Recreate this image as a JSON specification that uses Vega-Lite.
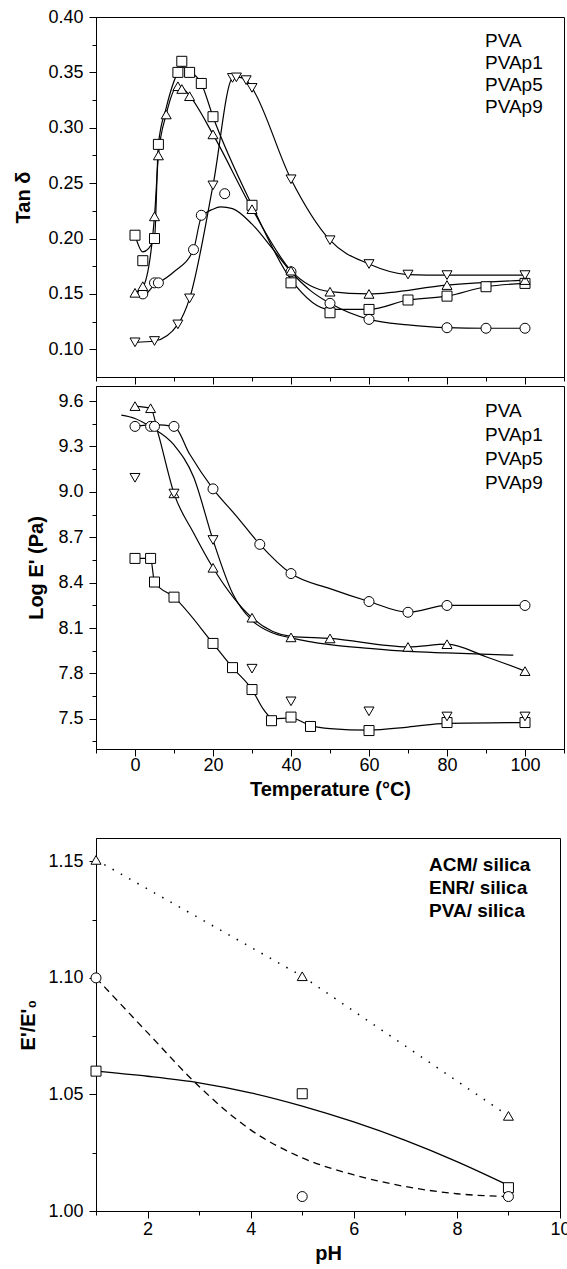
{
"$schema": "https://vega.github.io/schema/vega-lite/v6.json",
"background": "white",
"padding": {"left": 13, "top": 7, "right": 0, "bottom": 0},
"config": {
  "font": "Liberation Sans",
  "view": {"stroke": "black", "strokeWidth": 1},
  "axis": {"grid": false, "domainColor": "black", "domainWidth": 1, "tickColor": "black", "tickWidth": 1, "labelColor": "black", "labelFont": "Liberation Sans", "labelFontSize": 18, "titleFont": "Liberation Sans", "titleFontSize": 20, "titleFontWeight": "bold", "titleColor": "black", "labelOverlap": false, "labelFlush": false, "labelPadding": 6},
  "legend": {"padding": 0, "labelFont": "Liberation Sans", "labelColor": "black", "symbolStrokeColor": "black", "symbolFillColor": "white", "symbolStrokeWidth": 1}
},
"datasets": {
  "tanPts": [
    {"s":"PVA","T":0,"v":0.203},{"s":"PVA","T":2,"v":0.180},{"s":"PVA","T":5,"v":0.200},{"s":"PVA","T":6,"v":0.285},{"s":"PVA","T":11,"v":0.350},{"s":"PVA","T":12,"v":0.360},{"s":"PVA","T":14,"v":0.350},{"s":"PVA","T":17,"v":0.340},{"s":"PVA","T":20,"v":0.310},{"s":"PVA","T":30,"v":0.230},{"s":"PVA","T":40,"v":0.160},{"s":"PVA","T":50,"v":0.133},{"s":"PVA","T":60,"v":0.136},{"s":"PVA","T":70,"v":0.1445},{"s":"PVA","T":80,"v":0.148},{"s":"PVA","T":90,"v":0.1565},{"s":"PVA","T":100,"v":0.1595},
    {"s":"PVAp1","T":2,"v":0.150},{"s":"PVAp1","T":5,"v":0.160},{"s":"PVAp1","T":6,"v":0.160},{"s":"PVAp1","T":15,"v":0.190},{"s":"PVAp1","T":17,"v":0.221},{"s":"PVAp1","T":23,"v":0.2405},{"s":"PVAp1","T":40,"v":0.170},{"s":"PVAp1","T":50,"v":0.1415},{"s":"PVAp1","T":60,"v":0.127},{"s":"PVAp1","T":80,"v":0.1195},{"s":"PVAp1","T":90,"v":0.119},{"s":"PVAp1","T":100,"v":0.119},
    {"s":"PVAp5","T":0,"v":0.151},{"s":"PVAp5","T":2,"v":0.157},{"s":"PVAp5","T":5,"v":0.220},{"s":"PVAp5","T":6,"v":0.275},{"s":"PVAp5","T":8,"v":0.312},{"s":"PVAp5","T":11,"v":0.3375},{"s":"PVAp5","T":12,"v":0.335},{"s":"PVAp5","T":14,"v":0.3285},{"s":"PVAp5","T":20,"v":0.294},{"s":"PVAp5","T":30,"v":0.2265},{"s":"PVAp5","T":40,"v":0.171},{"s":"PVAp5","T":50,"v":0.152},{"s":"PVAp5","T":60,"v":0.150},{"s":"PVAp5","T":80,"v":0.158},{"s":"PVAp5","T":100,"v":0.1625},
    {"s":"PVAp9","T":0,"v":0.1063},{"s":"PVAp9","T":5,"v":0.1075},{"s":"PVAp9","T":11,"v":0.1225},{"s":"PVAp9","T":14,"v":0.146},{"s":"PVAp9","T":20,"v":0.248},{"s":"PVAp9","T":25,"v":0.345},{"s":"PVAp9","T":26,"v":0.3455},{"s":"PVAp9","T":28.5,"v":0.343},{"s":"PVAp9","T":30,"v":0.336},{"s":"PVAp9","T":40,"v":0.2535},{"s":"PVAp9","T":50,"v":0.1985},{"s":"PVAp9","T":60,"v":0.177},{"s":"PVAp9","T":70,"v":0.1675},{"s":"PVAp9","T":80,"v":0.167},{"s":"PVAp9","T":100,"v":0.167}
  ],
  "tanLines": [
    {"s":"PVA","T":0,"v":0.203},{"s":"PVA","T":2,"v":0.188},{"s":"PVA","T":5,"v":0.200},{"s":"PVA","T":6,"v":0.285},{"s":"PVA","T":8,"v":0.318},{"s":"PVA","T":11,"v":0.350},{"s":"PVA","T":12,"v":0.355},{"s":"PVA","T":14,"v":0.351},{"s":"PVA","T":17,"v":0.340},{"s":"PVA","T":20,"v":0.310},{"s":"PVA","T":30,"v":0.230},{"s":"PVA","T":40,"v":0.163},{"s":"PVA","T":50,"v":0.136},{"s":"PVA","T":60,"v":0.136},{"s":"PVA","T":70,"v":0.1445},{"s":"PVA","T":80,"v":0.148},{"s":"PVA","T":90,"v":0.1565},{"s":"PVA","T":100,"v":0.1595},
    {"s":"PVAp1","T":0,"v":0.150},{"s":"PVAp1","T":2,"v":0.148},{"s":"PVAp1","T":5,"v":0.158},{"s":"PVAp1","T":6,"v":0.160},{"s":"PVAp1","T":10,"v":0.170},{"s":"PVAp1","T":15,"v":0.190},{"s":"PVAp1","T":17,"v":0.219},{"s":"PVAp1","T":20,"v":0.2265},{"s":"PVAp1","T":22,"v":0.2285},{"s":"PVAp1","T":25,"v":0.227},{"s":"PVAp1","T":30,"v":0.213},{"s":"PVAp1","T":35,"v":0.192},{"s":"PVAp1","T":40,"v":0.170},{"s":"PVAp1","T":45,"v":0.153},{"s":"PVAp1","T":50,"v":0.1415},{"s":"PVAp1","T":60,"v":0.127},{"s":"PVAp1","T":70,"v":0.122},{"s":"PVAp1","T":80,"v":0.1195},{"s":"PVAp1","T":90,"v":0.119},{"s":"PVAp1","T":100,"v":0.119},
    {"s":"PVAp5","T":0,"v":0.151},{"s":"PVAp5","T":2,"v":0.156},{"s":"PVAp5","T":5,"v":0.220},{"s":"PVAp5","T":6,"v":0.275},{"s":"PVAp5","T":8,"v":0.312},{"s":"PVAp5","T":11,"v":0.338},{"s":"PVAp5","T":12,"v":0.3365},{"s":"PVAp5","T":14,"v":0.329},{"s":"PVAp5","T":20,"v":0.294},{"s":"PVAp5","T":30,"v":0.227},{"s":"PVAp5","T":40,"v":0.171},{"s":"PVAp5","T":50,"v":0.152},{"s":"PVAp5","T":60,"v":0.150},{"s":"PVAp5","T":80,"v":0.158},{"s":"PVAp5","T":100,"v":0.1625},
    {"s":"PVAp9","T":0,"v":0.1063},{"s":"PVAp9","T":5,"v":0.1075},{"s":"PVAp9","T":11,"v":0.1225},{"s":"PVAp9","T":14,"v":0.146},{"s":"PVAp9","T":20,"v":0.248},{"s":"PVAp9","T":25,"v":0.345},{"s":"PVAp9","T":26,"v":0.346},{"s":"PVAp9","T":28.5,"v":0.343},{"s":"PVAp9","T":30,"v":0.336},{"s":"PVAp9","T":40,"v":0.2535},{"s":"PVAp9","T":50,"v":0.1985},{"s":"PVAp9","T":60,"v":0.177},{"s":"PVAp9","T":70,"v":0.1675},{"s":"PVAp9","T":80,"v":0.167},{"s":"PVAp9","T":100,"v":0.167}
  ],
  "logPts": [
    {"s":"PVA","T":0,"v":8.56},{"s":"PVA","T":4,"v":8.56},{"s":"PVA","T":5,"v":8.404},{"s":"PVA","T":10,"v":8.304},{"s":"PVA","T":20,"v":7.998},{"s":"PVA","T":25,"v":7.838},{"s":"PVA","T":30,"v":7.693},{"s":"PVA","T":35,"v":7.487},{"s":"PVA","T":40,"v":7.511},{"s":"PVA","T":45,"v":7.449},{"s":"PVA","T":60,"v":7.422},{"s":"PVA","T":80,"v":7.475},{"s":"PVA","T":100,"v":7.475},
    {"s":"PVAp1","T":0,"v":9.433},{"s":"PVAp1","T":4,"v":9.433},{"s":"PVAp1","T":5,"v":9.433},{"s":"PVAp1","T":10,"v":9.433},{"s":"PVAp1","T":20,"v":9.02},{"s":"PVAp1","T":32,"v":8.653},{"s":"PVAp1","T":40,"v":8.46},{"s":"PVAp1","T":60,"v":8.275},{"s":"PVAp1","T":70,"v":8.204},{"s":"PVAp1","T":80,"v":8.249},{"s":"PVAp1","T":100,"v":8.249},
    {"s":"PVAp5","T":0,"v":9.567},{"s":"PVAp5","T":4,"v":9.553},{"s":"PVAp5","T":10,"v":8.99},{"s":"PVAp5","T":20,"v":8.498},{"s":"PVAp5","T":30,"v":8.168},{"s":"PVAp5","T":40,"v":8.038},{"s":"PVAp5","T":50,"v":8.031},{"s":"PVAp5","T":70,"v":7.975},{"s":"PVAp5","T":80,"v":7.993},{"s":"PVAp5","T":100,"v":7.815},
    {"s":"PVAp9","T":0,"v":9.093},{"s":"PVAp9","T":10,"v":8.989},{"s":"PVAp9","T":20,"v":8.682},{"s":"PVAp9","T":30,"v":7.831},{"s":"PVAp9","T":40,"v":7.615},{"s":"PVAp9","T":60,"v":7.549},{"s":"PVAp9","T":80,"v":7.515},{"s":"PVAp9","T":100,"v":7.515}
  ],
  "logLines": [
    {"s":"PVA","T":0,"v":8.56},{"s":"PVA","T":4,"v":8.56},{"s":"PVA","T":5,"v":8.404},{"s":"PVA","T":10,"v":8.304},{"s":"PVA","T":20,"v":7.998},{"s":"PVA","T":25,"v":7.838},{"s":"PVA","T":30,"v":7.693},{"s":"PVA","T":33,"v":7.56},{"s":"PVA","T":35.5,"v":7.5},{"s":"PVA","T":40,"v":7.505},{"s":"PVA","T":45,"v":7.455},{"s":"PVA","T":50,"v":7.435},{"s":"PVA","T":60,"v":7.425},{"s":"PVA","T":70,"v":7.445},{"s":"PVA","T":80,"v":7.47},{"s":"PVA","T":100,"v":7.475},
    {"s":"PVAp1","T":0,"v":9.433},{"s":"PVAp1","T":5,"v":9.445},{"s":"PVAp1","T":10,"v":9.433},{"s":"PVAp1","T":14,"v":9.25},{"s":"PVAp1","T":20,"v":9.02},{"s":"PVAp1","T":26,"v":8.84},{"s":"PVAp1","T":32,"v":8.653},{"s":"PVAp1","T":40,"v":8.46},{"s":"PVAp1","T":50,"v":8.36},{"s":"PVAp1","T":60,"v":8.275},{"s":"PVAp1","T":70,"v":8.204},{"s":"PVAp1","T":80,"v":8.249},{"s":"PVAp1","T":100,"v":8.249},
    {"s":"PVAp5","T":0,"v":9.567},{"s":"PVAp5","T":4,"v":9.553},{"s":"PVAp5","T":6,"v":9.38},{"s":"PVAp5","T":10,"v":8.99},{"s":"PVAp5","T":15,"v":8.73},{"s":"PVAp5","T":20,"v":8.498},{"s":"PVAp5","T":30,"v":8.168},{"s":"PVAp5","T":40,"v":8.045},{"s":"PVAp5","T":50,"v":8.031},{"s":"PVAp5","T":70,"v":7.975},{"s":"PVAp5","T":80,"v":7.993},{"s":"PVAp5","T":90,"v":7.91},{"s":"PVAp5","T":100,"v":7.815},
    {"s":"PVAp9","T":-3.5,"v":9.507},{"s":"PVAp9","T":0,"v":9.485},{"s":"PVAp9","T":4,"v":9.43},{"s":"PVAp9","T":10,"v":9.31},{"s":"PVAp9","T":15,"v":9.1},{"s":"PVAp9","T":20,"v":8.682},{"s":"PVAp9","T":25,"v":8.33},{"s":"PVAp9","T":30,"v":8.15},{"s":"PVAp9","T":35,"v":8.07},{"s":"PVAp9","T":40,"v":8.035},{"s":"PVAp9","T":50,"v":7.99},{"s":"PVAp9","T":60,"v":7.965},{"s":"PVAp9","T":70,"v":7.945},{"s":"PVAp9","T":80,"v":7.935},{"s":"PVAp9","T":97,"v":7.92}
  ],
  "phPts": [
    {"s":"ACM/ silica","pH":1,"r":1.06},{"s":"ACM/ silica","pH":5,"r":1.0503},{"s":"ACM/ silica","pH":9,"r":1.010},
    {"s":"ENR/ silica","pH":1,"r":1.10},{"s":"ENR/ silica","pH":5,"r":1.0062},{"s":"ENR/ silica","pH":9,"r":1.0062},
    {"s":"PVA/ silica","pH":1,"r":1.1506},{"s":"PVA/ silica","pH":5,"r":1.1007},{"s":"PVA/ silica","pH":9,"r":1.0408}
  ],
  "phLines": [
    {"s":"ACM/ silica","pH":1,"r":1.06},{"s":"ACM/ silica","pH":2,"r":1.0578},{"s":"ACM/ silica","pH":3,"r":1.055},{"s":"ACM/ silica","pH":4,"r":1.0507},{"s":"ACM/ silica","pH":5,"r":1.045},{"s":"ACM/ silica","pH":6,"r":1.0382},{"s":"ACM/ silica","pH":7,"r":1.0303},{"s":"ACM/ silica","pH":8,"r":1.0212},{"s":"ACM/ silica","pH":9,"r":1.011},
    {"s":"ENR/ silica","pH":1,"r":1.10},{"s":"ENR/ silica","pH":2,"r":1.0765},{"s":"ENR/ silica","pH":3,"r":1.0534},{"s":"ENR/ silica","pH":4,"r":1.0348},{"s":"ENR/ silica","pH":5,"r":1.0228},{"s":"ENR/ silica","pH":6,"r":1.0155},{"s":"ENR/ silica","pH":7,"r":1.0105},{"s":"ENR/ silica","pH":8,"r":1.0074},{"s":"ENR/ silica","pH":9,"r":1.0062},
    {"s":"PVA/ silica","pH":1,"r":1.1506},{"s":"PVA/ silica","pH":5,"r":1.1007},{"s":"PVA/ silica","pH":9,"r":1.0408}
  ]
},
"spacing": 37,
"align": "none",
"resolve": {"scale": {"shape": "independent"}, "legend": {"shape": "independent"}},
"vconcat": [
  {
    "spacing": 0,
    "resolve": {"scale": {"shape": "independent"}, "legend": {"shape": "independent"}},
    "vconcat": [
      {
        "width": 468, "height": 360,
        "encoding": {
          "x": {"field": "T", "type": "quantitative", "scale": {"domain": [-10, 110], "nice": false, "zero": false},
                "axis": {"values": [-10,0,10,20,30,40,50,60,70,80,90,100,110], "labels": false, "title": null,
                         "tickSize": {"condition": {"test": "datum.value % 20 === 0", "value": 7}, "value": 4}}},
          "y": {"field": "v", "type": "quantitative", "scale": {"domain": [0.075, 0.4], "nice": false, "zero": false},
                "axis": {"values": [0.1,0.125,0.15,0.175,0.2,0.225,0.25,0.275,0.3,0.325,0.35,0.375,0.4],
                         "labelExpr": "round(datum.value*1000) % 50 === 0 ? format(datum.value, '.2f') : ''",
                         "title": "Tan δ", "titlePadding": 14,
                         "tickSize": {"condition": {"test": "round(datum.value*1000) % 50 === 0", "value": 7}, "value": 4}}}
        },
        "layer": [
          {"data": {"name": "tanLines"}, "mark": {"type": "line", "interpolate": "monotone", "color": "black", "strokeWidth": 1.2},
           "encoding": {"detail": {"field": "s", "type": "nominal"}}},
          {"data": {"name": "tanPts"}, "mark": {"type": "point", "filled": true, "fill": "white", "stroke": "black", "strokeWidth": 1, "size": 100, "opacity": 1},
           "encoding": {"shape": {"field": "s", "type": "nominal",
             "scale": {"domain": ["PVA","PVAp1","PVAp5","PVAp9"], "range": ["square","circle","triangle-up","triangle-down"]},
             "legend": {"title": null, "orient": "none", "legendX": 347, "legendY": 14, "labelFontSize": 19, "symbolSize": 110, "labelOffset": 23, "rowPadding": 2,
               "encode": {"symbols": {"update": {"size": {"value": 110}, "fill": {"value": "white"}, "stroke": {"value": "black"}, "strokeWidth": {"value": 1}, "opacity": {"value": 1}, "shape": {"signal": "datum.value === 'PVA' ? 'M-4.4,0H-1M1,0H4.4M-1,-1H1V1H-1Z' : datum.value === 'PVAp1' ? 'M-4.4,0H-1M1,0H4.4M-1,0A1,1,0,1,1,1,0A1,1,0,1,1,-1,0Z' : datum.value === 'PVAp5' ? 'M-4.4,0H-1.1M1.1,0H4.4M0,-1.2L1.3,1H-1.3Z' : 'M-4.4,0H-1.1M1.1,0H4.4M0,1.2L1.3,-1H-1.3Z'"}}}}}}}},
          {"data": {"values": [{"label": "c"}]}, "mark": {"type": "text", "fontSize": 22, "fontWeight": "bold", "align": "left", "baseline": "alphabetic", "color": "black", "font": "Liberation Sans"},
           "encoding": {"x": {"datum": -31, "type": "quantitative"}, "y": {"datum": 0.389, "type": "quantitative"}, "text": {"field": "label"}}}
        ]
      },
      {
        "width": 468, "height": 363,
        "encoding": {
          "x": {"field": "T", "type": "quantitative", "scale": {"domain": [-10, 110], "nice": false, "zero": false},
                "axis": {"values": [-10,0,10,20,30,40,50,60,70,80,90,100,110],
                         "labelExpr": "datum.value % 20 === 0 && datum.value >= 0 && datum.value <= 100 ? datum.label : ''",
                         "title": "Temperature (°C)", "titlePadding": 5, "labelPadding": 0,
                         "tickSize": {"condition": {"test": "datum.value % 20 === 0", "value": 7}, "value": 4}}},
          "y": {"field": "v", "type": "quantitative", "scale": {"domain": [7.3, 9.7], "nice": false, "zero": false},
                "axis": {"values": [7.35,7.5,7.65,7.8,7.95,8.1,8.25,8.4,8.55,8.7,8.85,9.0,9.15,9.3,9.45,9.6],
                         "labelExpr": "round(datum.value*100) % 30 === 0 ? format(datum.value, '.1f') : ''",
                         "title": "Log E' (Pa)", "titlePadding": 11,
                         "tickSize": {"condition": {"test": "round(datum.value*100) % 30 === 0", "value": 7}, "value": 4}}}
        },
        "layer": [
          {"data": {"name": "logLines"}, "mark": {"type": "line", "interpolate": "monotone", "color": "black", "strokeWidth": 1.2},
           "encoding": {"detail": {"field": "s", "type": "nominal"}}},
          {"data": {"name": "logPts"}, "mark": {"type": "point", "filled": true, "fill": "white", "stroke": "black", "strokeWidth": 1, "size": 100, "opacity": 1},
           "encoding": {"shape": {"field": "s", "type": "nominal",
             "scale": {"domain": ["PVA","PVAp1","PVAp5","PVAp9"], "range": ["square","circle","triangle-up","triangle-down"]},
             "legend": {"title": null, "orient": "none", "legendX": 347, "legendY": 15, "labelFontSize": 19, "symbolSize": 110, "labelOffset": 23, "rowPadding": 4,
               "encode": {"symbols": {"update": {"size": {"value": 110}, "fill": {"value": "white"}, "stroke": {"value": "black"}, "strokeWidth": {"value": 1}, "opacity": {"value": 1}, "shape": {"signal": "datum.value === 'PVA' ? 'M-4.4,0H-1M1,0H4.4M-1,-1H1V1H-1Z' : datum.value === 'PVAp1' ? 'M-4.4,0H-1M1,0H4.4M-1,0A1,1,0,1,1,1,0A1,1,0,1,1,-1,0Z' : datum.value === 'PVAp5' ? 'M-4.4,0H-1.1M1.1,0H4.4M0,-1.2L1.3,1H-1.3Z' : 'M-4.4,0H-1.1M1.1,0H4.4M0,1.2L1.3,-1H-1.3Z'"}}}}}}}}
        ]
      }
    ]
  },
  {
    "width": 464, "height": 373,
    "encoding": {
      "x": {"field": "pH", "type": "quantitative", "scale": {"domain": [1, 10], "nice": false, "zero": false},
            "axis": {"values": [1,2,3,4,5,6,7,8,9,10],
                     "labelExpr": "datum.value % 2 === 0 ? datum.label : ''",
                     "title": "pH", "titlePadding": 5, "labelPadding": 2,
                     "tickSize": {"condition": {"test": "datum.value % 2 === 0", "value": 7}, "value": 4}}},
      "y": {"field": "r", "type": "quantitative", "scale": {"domain": [1.0, 1.16], "nice": false, "zero": false},
            "axis": {"values": [1.0,1.025,1.05,1.075,1.1,1.125,1.15],
                     "labelExpr": "round(datum.value*1000) % 50 === 0 ? format(datum.value, '.2f') : ''",
                     "title": "E'/E'₀", "titlePadding": 9,
                     "tickSize": {"condition": {"test": "round(datum.value*1000) % 50 === 0", "value": 7}, "value": 4}}}
    },
    "layer": [
      {"data": {"name": "phLines"}, "transform": [{"filter": "datum.s === 'ACM/ silica'"}], "mark": {"type": "line", "interpolate": "monotone", "color": "black", "strokeWidth": 1.3}, "encoding": {}},
      {"data": {"name": "phLines"}, "transform": [{"filter": "datum.s === 'ENR/ silica'"}], "mark": {"type": "line", "interpolate": "monotone", "color": "black", "strokeWidth": 1.3, "strokeDash": [7, 5]}, "encoding": {}},
      {"data": {"name": "phLines"}, "transform": [{"filter": "datum.s === 'PVA/ silica'"}], "mark": {"type": "line", "interpolate": "linear", "color": "black", "strokeWidth": 1.5, "strokeDash": [1.5, 8]}, "encoding": {}},
      {"data": {"name": "phPts"}, "mark": {"type": "point", "filled": true, "fill": "white", "stroke": "black", "strokeWidth": 1, "size": 100, "opacity": 1},
       "encoding": {"shape": {"field": "s", "type": "nominal",
         "scale": {"domain": ["ACM/ silica","ENR/ silica","PVA/ silica"], "range": ["square","circle","triangle-up"]},
         "legend": {"title": null, "orient": "none", "legendX": 293, "legendY": 17, "labelFontSize": 19, "labelFontWeight": "bold", "symbolSize": 90, "labelOffset": 21, "rowPadding": 3,
           "encode": {"symbols": {"update": {"size": {"value": 90}, "fill": {"value": "white"}, "stroke": {"value": "black"}, "strokeWidth": {"value": 1}, "opacity": {"value": 1}, "shape": {"signal": "datum.value === 'ACM/ silica' ? 'M-4.95,0H-1M1,0H4.95M-1,-1H1V1H-1Z' : datum.value === 'ENR/ silica' ? 'M-5.6,0H-4.2M1.9,0H3.3M-1.9,0A1.4,1.4,0,1,1,0.9,0A1.4,1.4,0,1,1,-1.9,0Z' : 'M-5.2,0H-4.9M-3.9,0H-3.6M2.0,0H2.3M3.7,0H4.0M-0.3,-1.3L1.1,1H-1.7Z'"}}}}}}}},
      {"data": {"values": [{"label": "d"}]}, "mark": {"type": "text", "fontSize": 22, "fontWeight": "bold", "align": "left", "baseline": "alphabetic", "color": "black", "font": "Liberation Sans"},
       "encoding": {"x": {"datum": -0.534, "type": "quantitative"}, "y": {"datum": 1.1518, "type": "quantitative"}, "text": {"field": "label"}}}
    ]
  }
]
}
